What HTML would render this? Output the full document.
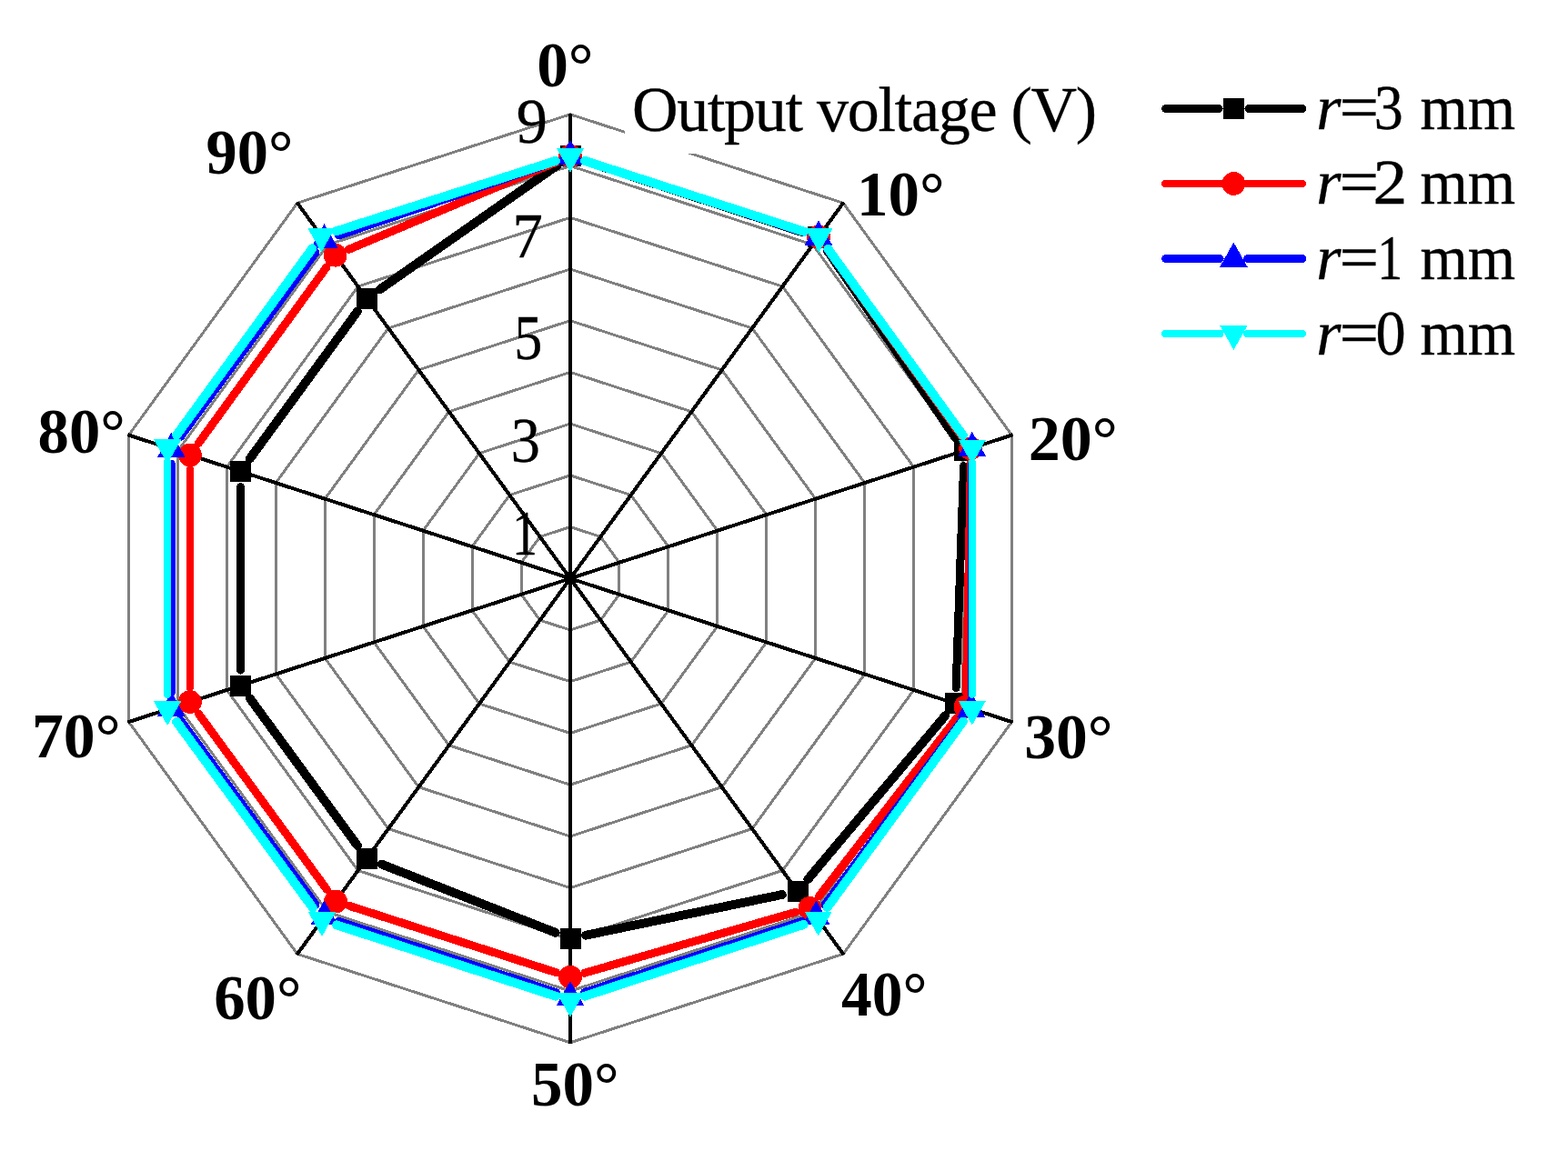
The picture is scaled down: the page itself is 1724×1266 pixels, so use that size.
<!DOCTYPE html>
<html lang="en">
<head>
<meta charset="utf-8">
<title>Output voltage radar chart</title>
<style>
html,body{margin:0;padding:0;background:#fff;}
body{width:1724px;height:1266px;overflow:hidden;}
svg{display:block;}
text{white-space:pre;}
</style>
</head>
<body>
<svg width="1724" height="1266" viewBox="0 0 1724 1266" shape-rendering="crispEdges">
<rect width="1724" height="1266" fill="#ffffff"/>
<g id="grid" fill="none" stroke="#808080" stroke-width="3" stroke-linejoin="miter">
<polygon points="627,579.6 660.3,590.4 680.9,618.8 680.9,653.8 660.3,682.2 627,693 593.7,682.2 573.1,653.8 573.1,618.8 593.7,590.4"/>
<polygon points="627,522.9 693.7,544.5 734.9,601.2 734.9,671.4 693.7,728.1 627,749.7 560.3,728.1 519.1,671.4 519.1,601.2 560.3,544.5"/>
<polygon points="627,466.1 727,498.6 788.8,583.7 788.8,688.9 727,774 627,806.5 527,774 465.2,688.9 465.2,583.7 527,498.6"/>
<polygon points="627,409.4 760.4,452.8 842.8,566.2 842.8,706.4 760.4,819.8 627,863.2 493.6,819.8 411.2,706.4 411.2,566.2 493.6,452.8"/>
<polygon points="627,352.7 793.7,406.9 896.7,548.7 896.7,723.9 793.7,865.7 627,919.9 460.3,865.7 357.3,723.9 357.3,548.7 460.3,406.9"/>
<polygon points="627,296 827,361 950.7,531.1 950.7,741.5 827,911.6 627,976.6 427,911.6 303.3,741.5 303.3,531.1 427,361"/>
<polygon points="627,239.3 860.4,315.1 1004.6,513.6 1004.6,759 860.4,957.5 627,1033.3 393.6,957.5 249.4,759 249.4,513.6 393.6,315.1"/>
<polygon points="627,182.5 893.7,269.2 1058.6,496.1 1058.6,776.5 893.7,1003.4 627,1090.1 360.3,1003.4 195.4,776.5 195.4,496.1 360.3,269.2"/>
<polygon points="627,125.8 927.1,223.3 1112.5,478.6 1112.5,794 927.1,1049.3 627,1146.8 326.9,1049.3 141.5,794 141.5,478.6 326.9,223.3"/>
</g>
<rect id="title-bg" x="687" y="86" width="525" height="82.5" fill="#ffffff"/>
<g id="axes" stroke="#000000" stroke-width="4" stroke-linecap="butt">
<line x1="627" y1="636.3" x2="627" y2="124.7" stroke-width="4"/>
<line x1="627" y1="636.3" x2="927.7" y2="222.4"/>
<line x1="627" y1="636.3" x2="1113.6" y2="478.2"/>
<line x1="627" y1="636.3" x2="1113.6" y2="794.4"/>
<line x1="627" y1="636.3" x2="927.7" y2="1050.2"/>
<line x1="627" y1="636.3" x2="627" y2="1147.9" stroke-width="4"/>
<line x1="627" y1="636.3" x2="326.3" y2="1050.2"/>
<line x1="627" y1="636.3" x2="140.4" y2="794.4"/>
<line x1="627" y1="636.3" x2="140.4" y2="478.2"/>
<line x1="627" y1="636.3" x2="326.3" y2="222.4"/>
</g>
<g id="ticks" font-family="'Liberation Serif', serif" font-size="70" fill="#000" stroke="#000" stroke-width="0.35">
<text x="567.8" y="156.6" textLength="34.2" lengthAdjust="spacingAndGlyphs">9</text>
<text x="563.6" y="283" textLength="33.3" lengthAdjust="spacingAndGlyphs">7</text>
<text x="565.3" y="394.6" textLength="31" lengthAdjust="spacingAndGlyphs">5</text>
<text x="561.7" y="508.3" textLength="32.1" lengthAdjust="spacingAndGlyphs">3</text>
<text x="563.1" y="610" textLength="28" lengthAdjust="spacingAndGlyphs">1</text>
</g>
<text id="title" x="694.9" y="144.2" font-family="'Liberation Serif', serif" font-size="70" letter-spacing="-1.26" fill="#000" stroke="#000" stroke-width="0.35">Output voltage (V)</text>
<g id="angles" font-family="'Liberation Serif', serif" font-size="70" font-weight="bold" fill="#000">
<text x="590.2" y="95.3" textLength="62.4" lengthAdjust="spacingAndGlyphs">0°</text>
<text x="942.1" y="236.9" textLength="96.6" lengthAdjust="spacingAndGlyphs">10°</text>
<text x="1130.8" y="506.1" textLength="98.1" lengthAdjust="spacingAndGlyphs">20°</text>
<text x="1126.2" y="833.5" textLength="97.4" lengthAdjust="spacingAndGlyphs">30°</text>
<text x="925" y="1116.9" textLength="94.4" lengthAdjust="spacingAndGlyphs">40°</text>
<text x="583.9" y="1216.3" textLength="96.7" lengthAdjust="spacingAndGlyphs">50°</text>
<text x="235.2" y="1121.2" textLength="96.3" lengthAdjust="spacingAndGlyphs">60°</text>
<text x="34.9" y="833.3" textLength="97.7" lengthAdjust="spacingAndGlyphs">70°</text>
<text x="41.6" y="498.4" textLength="96.1" lengthAdjust="spacingAndGlyphs">80°</text>
<text x="226.5" y="190.7" textLength="95.8" lengthAdjust="spacingAndGlyphs">90°</text>
</g>
<g id="series-black">
<g stroke="#000000" stroke-width="9.8" stroke-linecap="round" fill="none">
<line x1="643.6" y1="177.2" x2="883.1" y2="255.5"/>
<line x1="909.6" y1="275.4" x2="1050.3" y2="481.1"/>
<line x1="1059.6" y1="512.6" x2="1051.1" y2="756.8" stroke-width="9.0"/>
<line x1="1039.2" y1="787.3" x2="888.3" y2="967.1"/>
<line x1="859.9" y1="984" x2="644.1" y2="1028.7"/>
<line x1="610.7" y1="1025.8" x2="419.6" y2="950.6"/>
<line x1="393" y1="930.1" x2="274.8" y2="768.2"/>
<line x1="264.5" y1="737" x2="264.5" y2="535.6" stroke-width="9.0"/>
<line x1="274.8" y1="504.4" x2="393" y2="342.5"/>
<line x1="417.6" y1="318.4" x2="612.7" y2="181.8"/>
</g>
<rect x="615.5" y="160.3" width="23" height="23" fill="#000000"/>
<rect x="888.2" y="249.4" width="23" height="23" fill="#000000"/>
<rect x="1048.7" y="484.1" width="23" height="23" fill="#000000"/>
<rect x="1039" y="762.4" width="23" height="23" fill="#000000"/>
<rect x="865.5" y="969" width="23" height="23" fill="#000000"/>
<rect x="615.5" y="1020.7" width="23" height="23" fill="#000000"/>
<rect x="391.8" y="932.7" width="23" height="23" fill="#000000"/>
<rect x="253" y="742.6" width="23" height="23" fill="#000000"/>
<rect x="253" y="507" width="23" height="23" fill="#000000"/>
<rect x="391.8" y="316.9" width="23" height="23" fill="#000000"/>
</g>
<g id="series-red">
<g stroke="#ff0000" stroke-width="9.0" stroke-linecap="round" fill="none">
<line x1="642.5" y1="176.8" x2="884.5" y2="255.4"/>
<line x1="909.6" y1="273.7" x2="1057.7" y2="480"/>
<line x1="1066.9" y1="509" x2="1061.8" y2="761.7" stroke-width="7.9"/>
<line x1="1051.5" y1="790.4" x2="900.4" y2="985.9"/>
<line x1="874.7" y1="1003.3" x2="642.7" y2="1070.2"/>
<line x1="611.5" y1="1069.7" x2="384.5" y2="996.5"/>
<line x1="359.3" y1="978.3" x2="218.5" y2="785.3"/>
<line x1="208.9" y1="756.4" x2="208.9" y2="516.2" stroke-width="7.9"/>
<line x1="218.5" y1="487.3" x2="359" y2="293.9"/>
<line x1="383.6" y1="274.3" x2="612" y2="178.1"/>
</g>
<circle cx="627" cy="171.8" r="12.9" fill="#ff0000"/>
<circle cx="900" cy="260.5" r="12.9" fill="#ff0000"/>
<circle cx="1067.2" cy="493.3" r="12.9" fill="#ff0000"/>
<circle cx="1061.5" cy="777.5" r="12.9" fill="#ff0000"/>
<circle cx="890.4" cy="998.8" r="12.9" fill="#ff0000"/>
<circle cx="627" cy="1074.7" r="12.9" fill="#ff0000"/>
<circle cx="369" cy="991.5" r="12.9" fill="#ff0000"/>
<circle cx="208.9" cy="772.1" r="12.9" fill="#ff0000"/>
<circle cx="208.9" cy="500.5" r="12.9" fill="#ff0000"/>
<circle cx="368.6" cy="280.7" r="12.9" fill="#ff0000"/>
</g>
<g id="series-blue">
<g stroke="#0000ff" stroke-width="9.5" stroke-linecap="round" fill="none">
<line x1="642.9" y1="176.9" x2="884.1" y2="255.3"/>
<line x1="909.9" y1="274" x2="1059" y2="479.2"/>
<line x1="1068.7" y1="509" x2="1067.8" y2="763.2" stroke-width="8.5"/>
<line x1="1057.7" y1="792.9" x2="907.4" y2="995"/>
<line x1="881.5" y1="1013.7" x2="642.9" y2="1091.7"/>
<line x1="611.1" y1="1091.7" x2="372.5" y2="1013.7"/>
<line x1="346.7" y1="994.9" x2="198.3" y2="792.3"/>
<line x1="188.4" y1="762.5" x2="188.4" y2="510.1" stroke-width="8.5"/>
<line x1="198.3" y1="480.3" x2="346.7" y2="277.7"/>
<line x1="372.5" y1="258.7" x2="611.1" y2="177.2"/>
</g>
<polygon points="611.8,180.8 642.2,180.8 627,153.9" fill="#0000ff"/>
<polygon points="884.8,269.5 915.2,269.5 900,242.6" fill="#0000ff"/>
<polygon points="1053.6,501.8 1084,501.8 1068.8,474.9" fill="#0000ff"/>
<polygon points="1052.5,788.5 1082.9,788.5 1067.7,761.6" fill="#0000ff"/>
<polygon points="882.2,1017.4 912.6,1017.4 897.4,990.5" fill="#0000ff"/>
<polygon points="611.8,1105.9 642.2,1105.9 627,1079" fill="#0000ff"/>
<polygon points="341.4,1017.4 371.8,1017.4 356.6,990.5" fill="#0000ff"/>
<polygon points="173.2,787.8 203.6,787.8 188.4,760.9" fill="#0000ff"/>
<polygon points="173.2,502.8 203.6,502.8 188.4,475.9" fill="#0000ff"/>
<polygon points="341.4,273.2 371.8,273.2 356.6,246.3" fill="#0000ff"/>
</g>
<g id="series-cyan">
<g stroke="#00ffff" stroke-width="10.0" stroke-linecap="round" fill="none">
<line x1="643.2" y1="177" x2="884.2" y2="254.8"/>
<line x1="910.3" y1="273.8" x2="1058.8" y2="479"/>
<line x1="1068.8" y1="509.1" x2="1068.8" y2="763.5" stroke-width="8.6"/>
<line x1="1058.8" y1="793.6" x2="909.7" y2="997.9"/>
<line x1="883.6" y1="1016.9" x2="643.2" y2="1095.6"/>
<line x1="610.8" y1="1095.6" x2="370.1" y2="1017.4"/>
<line x1="343.9" y1="998.4" x2="194.2" y2="793.9"/>
<line x1="184.1" y1="763.9" x2="184.1" y2="508.7" stroke-width="8.6"/>
<line x1="194.1" y1="478.6" x2="343.3" y2="273.3"/>
<line x1="369.5" y1="254.4" x2="610.8" y2="177"/>
</g>
<polygon points="611.8,162.8 642.2,162.8 627,189.7" fill="#00ffff"/>
<polygon points="885.2,251 915.6,251 900.4,277.9" fill="#00ffff"/>
<polygon points="1053.6,483.8 1084,483.8 1068.8,510.7" fill="#00ffff"/>
<polygon points="1053.6,770.8 1084,770.8 1068.8,797.7" fill="#00ffff"/>
<polygon points="884.5,1002.7 914.9,1002.7 899.7,1029.6" fill="#00ffff"/>
<polygon points="611.8,1091.8 642.2,1091.8 627,1118.7" fill="#00ffff"/>
<polygon points="338.8,1003.1 369.2,1003.1 354,1030" fill="#00ffff"/>
<polygon points="168.9,771.2 199.3,771.2 184.1,798.1" fill="#00ffff"/>
<polygon points="168.9,483.4 199.3,483.4 184.1,510.3" fill="#00ffff"/>
<polygon points="338.1,250.6 368.5,250.6 353.3,277.5" fill="#00ffff"/>
</g>
<g id="legend">
<g stroke="#000000" stroke-width="9.1" stroke-linecap="round">
<line x1="1281.6" y1="119.5" x2="1340" y2="119.5"/>
<line x1="1372.9" y1="119.5" x2="1431.7" y2="119.5"/>
</g>
<rect x="1344.9" y="108" width="23" height="23" fill="#000000"/>
<text y="141.9" font-family="'Liberation Serif', serif" font-size="70" fill="#000" stroke="#000" stroke-width="0.35"><tspan x="1447.3" font-style="italic">r</tspan><tspan x="1472.6" textLength="43.6" lengthAdjust="spacingAndGlyphs">=</tspan><tspan x="1510.8" textLength="32" lengthAdjust="spacingAndGlyphs">3</tspan><tspan x="1545"> </tspan><tspan x="1561.4" textLength="104.8" lengthAdjust="spacingAndGlyphs">mm</tspan></text>
<g stroke="#ff0000" stroke-width="7.9" stroke-linecap="round">
<line x1="1281" y1="202.0" x2="1341.7" y2="202.0"/>
<line x1="1371.2" y1="202.0" x2="1432.2" y2="202.0"/>
</g>
<circle cx="1356.4" cy="202" r="12.9" fill="#ff0000"/>
<text y="224" font-family="'Liberation Serif', serif" font-size="70" fill="#000" stroke="#000" stroke-width="0.35"><tspan x="1447.3" font-style="italic">r</tspan><tspan x="1472.6" textLength="43.6" lengthAdjust="spacingAndGlyphs">=</tspan><tspan x="1509.6" textLength="37.8" lengthAdjust="spacingAndGlyphs">2</tspan><tspan x="1545"> </tspan><tspan x="1561.4" textLength="104.8" lengthAdjust="spacingAndGlyphs">mm</tspan></text>
<g stroke="#0000ff" stroke-width="9.3" stroke-linecap="round">
<line x1="1281.8" y1="284.5" x2="1341" y2="284.5"/>
<line x1="1371.9" y1="284.5" x2="1431.5" y2="284.5"/>
</g>
<polygon points="1341.2,293.5 1371.6,293.5 1356.4,266.6" fill="#0000ff"/>
<text y="306.9" font-family="'Liberation Serif', serif" font-size="70" fill="#000" stroke="#000" stroke-width="0.35"><tspan x="1447.3" font-style="italic">r</tspan><tspan x="1472.6" textLength="43.6" lengthAdjust="spacingAndGlyphs">=</tspan><tspan x="1514.3" textLength="28" lengthAdjust="spacingAndGlyphs">1</tspan><tspan x="1545"> </tspan><tspan x="1561.4" textLength="104.8" lengthAdjust="spacingAndGlyphs">mm</tspan></text>
<g stroke="#00ffff" stroke-width="8.4" stroke-linecap="round">
<line x1="1281.3" y1="367.0" x2="1341.4" y2="367.0"/>
<line x1="1371.4" y1="367.0" x2="1432" y2="367.0"/>
</g>
<polygon points="1341.2,358 1371.6,358 1356.4,384.9" fill="#00ffff"/>
<text y="389.9" font-family="'Liberation Serif', serif" font-size="70" fill="#000" stroke="#000" stroke-width="0.35"><tspan x="1447.3" font-style="italic">r</tspan><tspan x="1472.6" textLength="43.6" lengthAdjust="spacingAndGlyphs">=</tspan><tspan x="1512.6" textLength="33.2" lengthAdjust="spacingAndGlyphs">0</tspan><tspan x="1545"> </tspan><tspan x="1561.4" textLength="104.8" lengthAdjust="spacingAndGlyphs">mm</tspan></text>
</g>
</svg>
</body>
</html>
